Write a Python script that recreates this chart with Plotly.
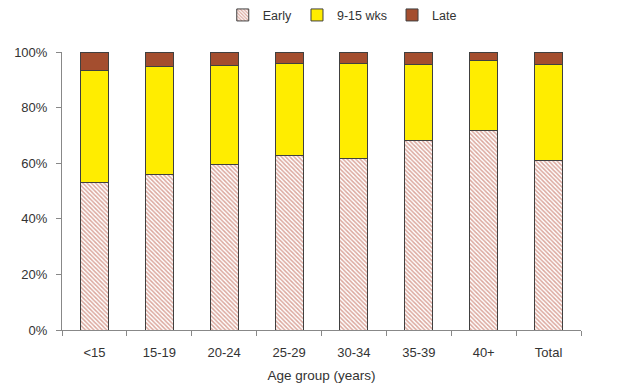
import plotly.graph_objects as go

categories = ["<15", "15-19", "20-24", "25-29", "30-34", "35-39", "40+", "Total"]
early = [52.9, 56.1, 59.7, 62.7, 61.7, 68.3, 71.6, 61.0]
mid = [40.3, 38.8, 35.5, 33.2, 34.2, 27.3, 25.3, 34.6]
late = [6.8, 5.1, 4.8, 4.1, 4.1, 4.4, 3.1, 4.4]
series_names = ["Early", "9-15 wks", "Late"]

def frac(v):
    return [x / 100 for x in v]

line = dict(color="#404040", width=1)
fig = go.Figure()
fig.add_trace(go.Bar(
    x=categories, y=frac(early), name=series_names[0],
    marker=dict(color="white", line=line,
                pattern=dict(shape="\\", fgcolor="#b8503c", bgcolor="white", size=3, solidity=0.5)),
))
fig.add_trace(go.Bar(
    x=categories, y=frac(mid), name=series_names[1],
    marker=dict(color="#FFED00", line=line),
))
fig.add_trace(go.Bar(
    x=categories, y=frac(late), name=series_names[2],
    marker=dict(color="#A44E2F", line=line),
))

fig.update_layout(
    width=621, height=383,
    barmode="stack", bargap=0.57,
    plot_bgcolor="white", paper_bgcolor="white",
    margin=dict(l=62, r=40, t=52, b=53, autoexpand=False),
    font=dict(family="Liberation Sans, Arial, sans-serif", size=13, color="#333333"),
    showlegend=True,
    legend=dict(orientation="h", x=0.54, xanchor="center",
                yref="container", y=0.96, yanchor="middle",
                traceorder="normal", font=dict(size=12.5), itemwidth=30,
                tracegroupgap=0),
    xaxis=dict(
        title=dict(text="Age group (years)", standoff=12, font=dict(size=13.5)),
        showline=True, linecolor="#888888", linewidth=1,
        ticks="outside", tickson="boundaries", ticklen=5, tickcolor="#888888",
        ticklabelstandoff=10,
        showgrid=False, automargin=False,
    ),
    yaxis=dict(
        range=[0, 1], tickformat=".0%", dtick=0.2,
        showline=True, linecolor="#888888", linewidth=1,
        ticks="outside", ticklen=5, tickcolor="#888888",
        ticklabelstandoff=6,
        showgrid=False, zeroline=False, automargin=False,
    ),
)

fig.write_html("out.html", config={"displayModeBar": False},
               post_script="document.body.style.margin='0';")
